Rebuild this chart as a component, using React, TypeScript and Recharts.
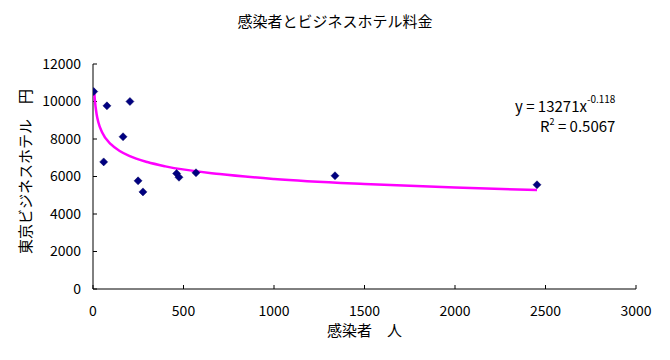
import { ScatterChart, Scatter, XAxis, YAxis, Label, Customized } from "recharts"

// 感染者数 (人) と東京ビジネスホテル料金 (円)
const infected = [4, 59, 77, 204, 166, 249, 276, 462, 475, 569, 1337, 2453]
const hotelYen = [10530, 6780, 9770, 10000, 8120, 5770, 5180, 6160, 5960, 6200, 6040, 5560]

// 累乗近似曲線
const trendX = [7, 10, 20, 30, 50, 100, 150, 200, 300, 400, 700, 1000, 1500, 2000, 2453]
const trendY = [10500, 10110, 9320, 8880, 8360, 7710, 7350, 7100, 6770, 6540, 6130, 5870, 5600, 5410, 5280]

const xTicks = [0, 500, 1000, 1500, 2000, 2500, 3000]
const yTicks = [0, 2000, 4000, 6000, 8000, 10000, 12000]

const points = infected.map((x, i) => ({ x, y: hotelYen[i] }))
const trend = trendX.map((x, i) => ({ x, y: trendY[i] }))

const FONT = "'Noto Sans CJK JP', sans-serif"
const TICK = { fill: "#000000", fontSize: 14, fontFamily: FONT }

const Diamond = (p: any) => {
  const { cx, cy } = p
  const r = 4
  return <polygon points={`${cx},${cy - r} ${cx + r},${cy} ${cx},${cy + r} ${cx - r},${cy}`} fill="#000080" stroke="#000060" strokeWidth={0.5} />
}

const Texts = () => (
  <g fontFamily={FONT} fill="#000000">
    <text x={335} y={27} fontSize={15} textAnchor="middle">感染者とビジネスホテル料金</text>
    <text x={515} y={112} fontSize={15}>
      y = 13271x
      <tspan fontSize={10} dy={-9}>-0.118</tspan>
    </text>
    <text x={540} y={132} fontSize={15}>
      R
      <tspan fontSize={9} dy={-7}>2</tspan>
      <tspan dy={7}> = 0.5067</tspan>
    </text>
  </g>
)

export default function App() {
  return (
    <div style={{ position: "absolute", left: 0, top: 0, width: 670, height: 360, background: "#ffffff" }}>
      <ScatterChart width={670} height={360} margin={{ top: 64, right: 34, left: 0, bottom: 41 }}>
        <XAxis
          type="number"
          dataKey="x"
          domain={[0, 3000]}
          ticks={xTicks}
          height={30}
          tick={TICK}
          tickSize={-4}
          tickMargin={21}
          axisLine={{ stroke: "#000000" }}
          tickLine={{ stroke: "#000000" }}
          allowDataOverflow
        >
          <Label value="感染者　人" position="bottom" offset={6} style={{ fontSize: 15, fontFamily: FONT, fill: "#000000" }} />
        </XAxis>
        <YAxis
          type="number"
          dataKey="y"
          domain={[0, 12000]}
          ticks={yTicks}
          width={93}
          tick={TICK}
          tickSize={-4}
          tickMargin={16}
          axisLine={{ stroke: "#000000" }}
          tickLine={{ stroke: "#000000" }}
          allowDataOverflow
        >
          <Label
            value="東京ビジネスホテル　円"
            position="insideLeft"
            offset={26}
            angle={-90}
            dy={-5}
            style={{ fontSize: 15, fontFamily: FONT, fill: "#000000", textAnchor: "middle" }}
          />
        </YAxis>
        <Scatter
          data={trend}
          line={{ stroke: "#ff00ff", strokeWidth: 2.5 }}
          lineJointType="monotoneX"
          shape={() => <g />}
          isAnimationActive={false}
        />
        <Scatter data={points} shape={Diamond} isAnimationActive={false} />
        <Customized component={Texts} />
      </ScatterChart>
    </div>
  )
}
